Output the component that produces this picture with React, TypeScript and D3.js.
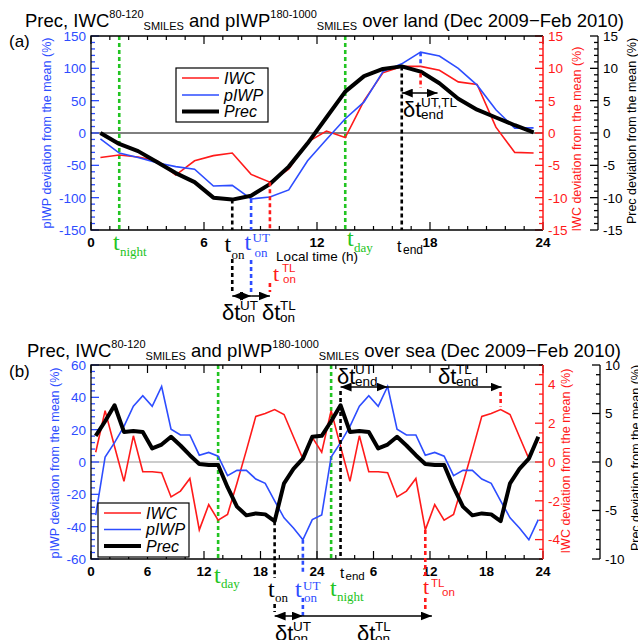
import React from 'react'
import * as d3 from 'd3'

// local hour of each bin (centre of the hour)
const hours = [0.5, 1.5, 2.5, 3.5, 4.5, 5.5, 6.5, 7.5, 8.5, 9.5, 10.5, 11.5,
  12.5, 13.5, 14.5, 15.5, 16.5, 17.5, 18.5, 19.5, 20.5, 21.5, 22.5, 23.5]

// (a) over land
const landPrec = [0, -1.7, -2.8, -4.5, -6.2, -7.6, -10.0, -10.3, -9.7, -7.9, -5.2, -1.6,
  2.4, 6.4, 8.8, 9.9, 10.3, 9.5, 7.7, 5.3, 3.6, 2.4, 1.2, 0.1]
const landIWC = [-3.8, -3.4, -3.7, -4.3, -6.5, -4.3, -3.5, -3.1, -6.4, -7.6, -5.6, -1.4,
  0.3, -0.7, 5.0, 9.3, 10.3, 10.3, 9.7, 7.9, 7.5, 0.9, -3.0, -3.1]
const landPIWP = [-9, -31, -38, -46, -52, -56, -82, -81, -102, -99, -88, -43,
  -10, 22, 48, 95, 107, 125, 119, 100, 74, 36, 7.5, 8]

// (b) over sea (one diurnal cycle, drawn twice)
const seaPrec = [2.7, 4.2, 5.85, 3.1, 3.2, 3.1, 1.4, 1.8, 2.6, 1.7, 0.7, -0.2,
  -0.3, -0.3, -2.6, -4.6, -5.5, -5.3, -5.4, -6.1, -2.2, -0.7, 0.35, 2.6]
const seaIWC = [0.5, 2.65, 0.8, -1.0, 1.35, -0.5, -0.5, -0.55, -1.8, -1.5, -0.85, -3.5,
  -2.2, -3.0, -2.7, -1.1, 0.6, 2.35, 2.5, 2.7, 2.45, 1.3, 0.17, 1.27]
const seaPIWP = [-32.8, 3.1, 12, 22, 34.5, 41, 34.5, 46.7, 20.3, 16.7, 16.7, 4.2,
  5.9, 3.6, -8.4, -5.2, -5.2, -10.5, -13.2, -24, -34.5, -40.8, -48.1, -35.6]

const landXTicks = [0, 6, 12, 18, 24]
const landXLabels = ['0', '6', '12', '18', '24']
const seaXTicks = [0, 6, 12, 18, 24, 30, 36, 42, 48]
const seaXLabels = ['0', '6', '12', '18', '24', '6', '12', '18', '24']
const landPiwpTicks = [-150, -100, -50, 0, 50, 100, 150]
const landIwcTicks = [-15, -10, -5, 0, 5, 10, 15]
const landPrecTicks = [-15, -10, -5, 0, 5, 10, 15]
const seaPiwpTicks = [-60, -40, -20, 0, 20, 40, 60]
const seaIwcTicks = [-4, -2, 0, 2, 4]
const seaPrecTicks = [-10, -5, 0, 5, 10]

const RED = '#ff1a1a'
const BLUE = '#2d4dff'
const GREEN = '#22c422'
const SANS = 'Liberation Sans, Arial, Helvetica, sans-serif'
const SERIF = 'Liberation Serif, Times New Roman, serif'

const L = 91, R = 543

function near(list, v) {
  return list.some(m => Math.abs(m - v) < 1e-6)
}

function Frame(p) {
  const { x, yL, yR, yP, top, bottom, xTicks, xLabels, xMax, xStep,
    lTicks, lStep, rTicks, rStep, pTicks, pStep, pAxisX, zeroColor, titles } = p
  const xMinor = d3.range(0, xMax + 1e-6, xStep)
  const lMinor = d3.range(yL.domain()[0], yL.domain()[1] + 1e-6, lStep)
  const rMinor = d3.range(yR.domain()[0], yR.domain()[1] + 1e-6, rStep)
  const pMinor = d3.range(yP.domain()[0], yP.domain()[1] + 1e-6, pStep)
  return (
    <g fontFamily={SANS}>
      <line x1={L} x2={R} y1={yL(0)} y2={yL(0)} stroke={zeroColor} strokeWidth={1} />
      {xMinor.map(t => {
        const len = near(xTicks, t) ? 8 : 4
        return (
          <g key={'x' + t} stroke="#000" strokeWidth={1.2}>
            <line x1={x(t)} x2={x(t)} y1={bottom} y2={bottom - len} />
            <line x1={x(t)} x2={x(t)} y1={top} y2={top + len} />
          </g>
        )
      })}
      {xTicks.map((t, i) => (
        <text key={'xl' + t} x={x(t)} y={bottom + 17} textAnchor="middle"
          fontSize={13.5} fontWeight="bold">{xLabels[i]}</text>
      ))}
      {lMinor.map(t => {
        const len = near(lTicks, t) ? 8 : 4
        return <line key={'l' + t} x1={L} x2={L + len} y1={yL(t)} y2={yL(t)} stroke={BLUE} strokeWidth={1.3} />
      })}
      {lTicks.map(t => (
        <text key={'ll' + t} x={L - 5} y={yL(t)} dy="0.36em" textAnchor="end"
          fontSize={13.5} fill={BLUE}>{t}</text>
      ))}
      {rMinor.map(t => {
        const len = near(rTicks, t) ? 8 : 4
        return <line key={'r' + t} x1={R} x2={R - len} y1={yR(t)} y2={yR(t)} stroke={RED} strokeWidth={1.3} />
      })}
      {rTicks.map(t => (
        <text key={'rl' + t} x={R + 5} y={yR(t)} dy="0.36em" fontSize={13.5} fill={RED}>{t}</text>
      ))}
      <line x1={pAxisX} x2={pAxisX} y1={top} y2={bottom} stroke="#000" strokeWidth={1.3} />
      {pMinor.map(t => {
        const len = near(pTicks, t) ? 8 : 4
        return <line key={'p' + t} x1={pAxisX} x2={pAxisX - len} y1={yP(t)} y2={yP(t)} stroke="#000" strokeWidth={1.3} />
      })}
      {pTicks.map(t => (
        <text key={'pl' + t} x={pAxisX + 5} y={yP(t)} dy="0.36em" fontSize={13.5}>{t}</text>
      ))}
      <path d={`M${R},${top} H${L} V${bottom} H${R}`} fill="none" stroke="#000" strokeWidth={1.3} />
      <line x1={R} x2={R} y1={top} y2={bottom} stroke={RED} strokeWidth={1.5} />
      {titles.map(tt => (
        <text key={tt.text} transform={`translate(${tt.x},${tt.y}) rotate(-90)`} dy="0.35em"
          textAnchor="middle" fontSize={12.5} fill={tt.color}>{tt.text}</text>
      ))}
    </g>
  )
}

function Title({ x, y, place }) {
  return (
    <text x={x} y={y} fontFamily={SANS} fontSize={18.5}>
      Prec, IWC
      <tspan fontSize={11} dy={-9}>80-120</tspan>
      <tspan fontSize={11} dy={12}>SMILES</tspan>
      <tspan dy={-3}> and pIWP</tspan>
      <tspan fontSize={11} dy={-9}>180-1000</tspan>
      <tspan fontSize={11} dy={12}>SMILES</tspan>
      <tspan dy={-3}>{` over ${place} (Dec 2009\u2212Feb 2010)`}</tspan>
    </text>
  )
}

function Legend({ x, y, w, h, rowY }) {
  const rows = [
    { name: 'IWC', color: RED, width: 1.6 },
    { name: 'pIWP', color: BLUE, width: 1.6 },
    { name: 'Prec', color: '#000', width: 4 },
  ]
  return (
    <g fontFamily={SANS}>
      <rect x={x} y={y} width={w} height={h} fill="#fff" stroke="#000" strokeWidth={1.2} />
      {rows.map((r, i) => (
        <g key={r.name}>
          <line x1={x + 6} x2={x + 43} y1={y + rowY[i]} y2={y + rowY[i]} stroke={r.color} strokeWidth={r.width} />
          <text x={x + 48} y={y + rowY[i]} dy="0.36em" fontSize={16} fontStyle="italic">{r.name}</text>
        </g>
      ))}
    </g>
  )
}

// a "t" (serif) with stacked superscript / subscript
function TSym({ x, y, color, sup, sub, size = 24, small = 13, serifSmall = true, supDx = 7, subDx = 7, supDy = -9, subDy = 7 }) {
  const f2 = serifSmall ? SERIF : SANS
  return (
    <g fill={color}>
      <text x={x} y={y} fontFamily={SERIF} fontSize={size}>t</text>
      {sup && <text x={x + supDx} y={y + supDy} fontFamily={f2} fontSize={small}>{sup}</text>}
      {sub && <text x={x + subDx} y={y + subDy} fontFamily={f2} fontSize={small}>{sub}</text>}
    </g>
  )
}

function Delta({ x, y, sup, sub }) {
  return (
    <g fontFamily={SANS} fill="#000">
      <text x={x} y={y} fontSize={22}>{'\u03b4t'}</text>
      <text x={x + 18} y={y - 10} fontSize={13.5}>{sup}</text>
      <text x={x + 18} y={y + 2} fontSize={13.5}>{sub}</text>
    </g>
  )
}

function VDash({ x, y1, y2, color }) {
  return <line x1={x} x2={x} y1={y1} y2={y2} stroke={color} strokeWidth={2.6} strokeDasharray="4 3" />
}

function Arrow({ x1, x2, y, both }) {
  return <line x1={x1} x2={x2} y1={y} y2={y} stroke="#000" strokeWidth={1.5}
    markerEnd="url(#ah)" markerStart={both ? 'url(#ah)' : undefined} />
}

function PanelA() {
  const top = 36, bottom = 230
  const x = d3.scaleLinear().domain([0, 24]).range([L, R])
  const yL = d3.scaleLinear().domain([-150, 150]).range([bottom, top])
  const yR = d3.scaleLinear().domain([-15, 15]).range([bottom, top])
  const yP = d3.scaleLinear().domain([-15, 15]).range([bottom, top])
  const mk = (y) => d3.line<number>().x((_, i) => x(hours[i])).y(d => y(d))
  return (
    <g>
      <Title x={25} y={27} place="land" />
      <text x={9} y={47} fontFamily={SANS} fontSize={17}>(a)</text>
      <VDash x={x(1.5)} y1={top} y2={bottom} color={GREEN} />
      <VDash x={x(13.5)} y1={top} y2={bottom} color={GREEN} />
      <Frame x={x} yL={yL} yR={yR} yP={yP} top={top} bottom={bottom}
        xTicks={landXTicks} xLabels={landXLabels} xMax={24} xStep={1}
        lTicks={landPiwpTicks} lStep={10} rTicks={landIwcTicks} rStep={1}
        pTicks={landPrecTicks} pStep={1} pAxisX={598} zeroColor="#000"
        titles={[
          { text: 'pIWP deviation from the mean (%)', x: 47, y: 133, color: BLUE },
          { text: 'IWC deviation from the mean (%)', x: 577, y: 139, color: RED },
          { text: 'Prec deviation from the mean (%)', x: 632, y: 131, color: '#000' },
        ]} />
      <path d={mk(yR)(landIWC)} fill="none" stroke={RED} strokeWidth={1.6} />
      <path d={mk(yL)(landPIWP)} fill="none" stroke={BLUE} strokeWidth={1.6} />
      <path d={mk(yP)(landPrec)} fill="none" stroke="#000" strokeWidth={4} strokeLinejoin="round" />
      <Legend x={176} y={68} w={92} h={54} rowY={[10, 27, 43.5]} />

      <VDash x={x(7.5)} y1={yP(landPrec[7])} y2={bottom} color="#000" />
      <VDash x={x(7.5)} y1={259} y2={292} color="#000" />
      <VDash x={x(8.5)} y1={yL(landPIWP[8])} y2={bottom} color={BLUE} />
      <VDash x={x(8.5)} y1={260} y2={292} color={BLUE} />
      <VDash x={x(9.5)} y1={yR(landIWC[9])} y2={bottom} color={RED} />
      <VDash x={x(9.5)} y1={283} y2={292} color={RED} />
      <VDash x={x(16.5)} y1={yP(landPrec[16])} y2={bottom} color="#000" />
      <VDash x={x(17.5)} y1={yL(landPIWP[17])} y2={yR(landIWC[17])} color={BLUE} />
      <VDash x={x(17.5)} y1={yR(landIWC[17]) + 7} y2={88} color={RED} />

      <Arrow x1={x(16.5)} x2={x(18.4)} y={93} both />
      <Delta x={403} y={117} sup="UT,TL" sub="end" />
      <Arrow x1={x(7.5)} x2={x(8.5)} y={296} both />
      <Arrow x1={x(8.5)} x2={x(9.5)} y={296} />
      <Delta x={222} y={320} sup="UT" sub="on" />
      <Delta x={262} y={320} sup="TL" sub="on" />

      <TSym x={113} y={250} color={GREEN} sub="night" subDx={7} subDy={6} />
      <TSym x={224.5} y={252} color="#000" sub="on" subDy={7} />
      <TSym x={244.5} y={250} color={BLUE} sup="UT" sub="on" supDx={8} subDx={10} supDy={-8} subDy={7} />
      <TSym x={273} y={281} color={RED} size={22} small={11.5} serifSmall={false} sup="TL" sub="on" supDx={9} subDx={10} supDy={-9} subDy={2} />
      <TSym x={347} y={246} color={GREEN} sub="day" subDy={6} />
      <text x={397} y={252} fontFamily={SANS} fontSize={16}>t</text>
      <text x={403} y={254} fontFamily={SANS} fontSize={12}>end</text>
      <text x={317} y={261} textAnchor="middle" fontFamily={SANS} fontSize={13.5}>Local time (h)</text>
    </g>
  )
}

function PanelB() {
  const top = 365, bottom = 559
  const seaX = [...hours, ...hours.map(h => h + 24)]
  const x = d3.scaleLinear().domain([0, 48]).range([L, R])
  const yL = d3.scaleLinear().domain([-60, 60]).range([bottom, top])
  const yR = d3.scaleLinear().domain([-5, 5]).range([bottom, top])
  const yP = d3.scaleLinear().domain([-10, 10]).range([bottom, top])
  const mk = (y) => d3.line<number>().x((_, i) => x(seaX[i])).y(d => y(d))
  return (
    <g>
      <Title x={27} y={357} place="sea" />
      <text x={9} y={377} fontFamily={SANS} fontSize={17}>(b)</text>
      <VDash x={x(13.5)} y1={top} y2={bottom} color={GREEN} />
      <VDash x={x(25.5)} y1={top} y2={bottom} color={GREEN} />
      <line x1={x(24)} x2={x(24)} y1={top} y2={bottom} stroke="#999" strokeWidth={2} />
      <Frame x={x} yL={yL} yR={yR} yP={yP} top={top} bottom={bottom}
        xTicks={seaXTicks} xLabels={seaXLabels} xMax={48} xStep={2}
        lTicks={seaPiwpTicks} lStep={4} rTicks={seaIwcTicks} rStep={0.5}
        pTicks={seaPrecTicks} pStep={1} pAxisX={600} zeroColor="#999"
        titles={[
          { text: 'pIWP deviation from the mean (%)', x: 55, y: 463, color: BLUE },
          { text: 'IWC deviation from the mean (%)', x: 566, y: 461, color: RED },
          { text: 'Prec deviation from the mean (%)', x: 636, y: 458, color: '#000' },
        ]} />
      <path d={mk(yR)([...seaIWC, ...seaIWC])} fill="none" stroke={RED} strokeWidth={1.6} />
      <path d={mk(yL)([...seaPIWP, ...seaPIWP])} fill="none" stroke={BLUE} strokeWidth={1.6} />
      <path d={mk(yP)([...seaPrec, ...seaPrec])} fill="none" stroke="#000" strokeWidth={4} strokeLinejoin="round" />
      <Legend x={98} y={503} w={91} h={54} rowY={[10, 26.5, 43]} />

      <VDash x={x(26.5)} y1={391} y2={bottom} color="#000" />
      <VDash x={x(43.5)} y1={392} y2={yR(seaIWC[19]) - 3} color={RED} />
      <Arrow x1={x(26.5)} x2={x(31.5)} y={387} both />
      <Arrow x1={x(31.5)} x2={x(43.6)} y={387} />
      <Delta x={337} y={384} sup="UT" sub="end" />
      <Delta x={438} y={384} sup="TL" sub="end" />

      <VDash x={x(19.5)} y1={yP(seaPrec[19])} y2={578} color="#000" />
      <VDash x={x(19.5)} y1={604} y2={612} color="#000" />
      <VDash x={x(22.5)} y1={yL(seaPIWP[22])} y2={572} color={BLUE} />
      <VDash x={x(22.5)} y1={598} y2={616} color={BLUE} />
      <VDash x={x(35.5)} y1={yR(seaIWC[11])} y2={578} color={RED} />
      <VDash x={x(35.5)} y1={598} y2={612} color={RED} />
      <Arrow x1={x(19.5)} x2={x(22.5)} y={616} both />
      <Arrow x1={x(22.5)} x2={x(36.2)} y={616} />
      <Delta x={275} y={641} sup="UT" sub="on" />
      <Delta x={357} y={641} sup="TL" sub="on" />

      <TSym x={214} y={583} color={GREEN} sub="day" subDy={5} />
      <TSym x={268} y={597} color="#000" sub="on" subDy={5} />
      <TSym x={295} y={597} color={BLUE} sup="UT" sub="on" supDx={8} subDx={9} supDy={-7} subDy={5} />
      <TSym x={330} y={596} color={GREEN} sub="night" subDy={5} />
      <text x={340} y={578} fontFamily={SANS} fontSize={15}>t</text>
      <text x={345.5} y={580} fontFamily={SANS} fontSize={11.5}>end</text>
      <TSym x={423} y={594} color={RED} size={22} small={11.5} serifSmall={false} sup="TL" sub="on" supDx={8} subDx={19} supDy={-7} subDy={2} />
    </g>
  )
}

export default function App() {
  return (
    <div style={{ position: 'absolute', left: 0, top: 0 }}>
      <svg width={638} height={640} style={{ display: 'block', background: '#fff' }}>
        <defs>
          <marker id="ah" viewBox="0 0 10 8" refX={10} refY={4} markerWidth={11} markerHeight={9}
            markerUnits="userSpaceOnUse" orient="auto-start-reverse">
            <path d="M0,0 L10,4 L0,8 z" fill="#000" />
          </marker>
        </defs>
        <PanelA />
        <PanelB />
      </svg>
    </div>
  )
}
